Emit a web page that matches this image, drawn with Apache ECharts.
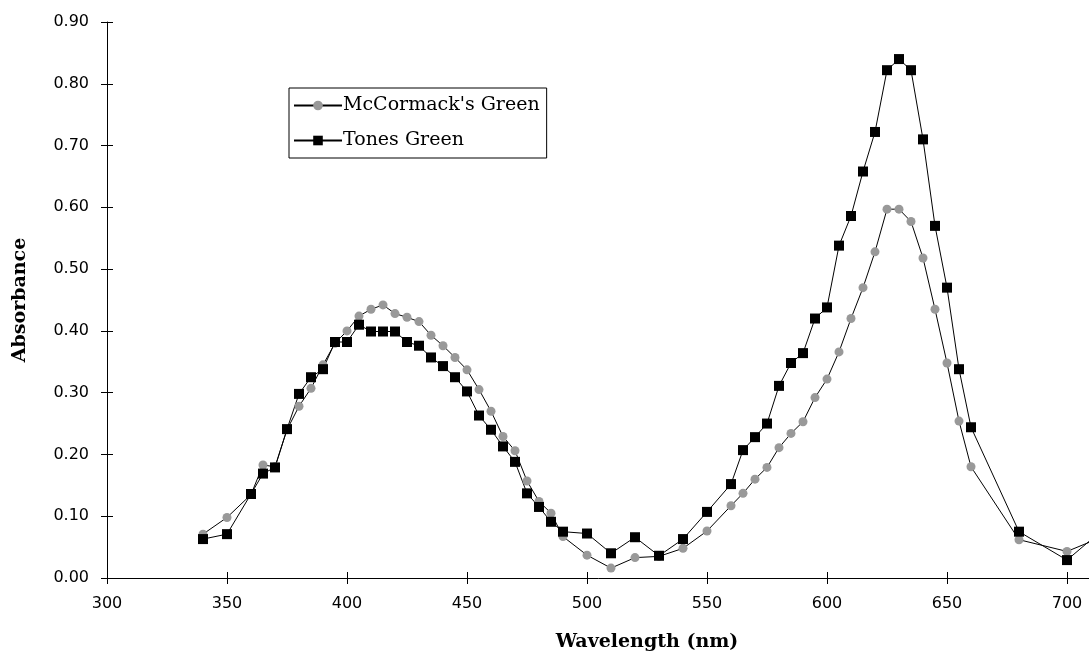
<!DOCTYPE html>
<html>
<head>
<meta charset="utf-8">
<script src="https://cdn.jsdelivr.net/npm/echarts@6/dist/echarts.min.js"></script>
<style>
  html, body { margin: 0; padding: 0; background: #fff; }
  #chart { width: 1089px; height: 655px; }
</style>
</head>
<body>
<div id="chart"></div>
<script>
// wavelengths (nm) sampled in the spectra
const wavelengths = [340, 350, 360, 365, 370, 375, 380, 385, 390, 395, 400, 405, 410, 415, 420,
  425, 430, 435, 440, 445, 450, 455, 460, 465, 470, 475, 480, 485, 490, 500, 510, 520, 530, 540,
  550, 560, 565, 570, 575, 580, 585, 590, 595, 600, 605, 610, 615, 620, 625, 630, 635, 640, 645,
  650, 655, 660, 680, 700, 720];

const mccormackGreen = [0.071, 0.098, 0.135, 0.183, 0.180, 0.240, 0.278, 0.307, 0.345, 0.380,
  0.400, 0.424, 0.435, 0.442, 0.428, 0.422, 0.415, 0.393, 0.376, 0.357, 0.337, 0.305, 0.270,
  0.229, 0.206, 0.157, 0.124, 0.105, 0.067, 0.037, 0.016, 0.033, 0.035, 0.048, 0.076, 0.117,
  0.137, 0.160, 0.179, 0.211, 0.234, 0.253, 0.292, 0.322, 0.366, 0.420, 0.470, 0.528, 0.597,
  0.597, 0.577, 0.518, 0.435, 0.348, 0.254, 0.180, 0.062, 0.043, 0.075];

const tonesGreen = [0.063, 0.071, 0.136, 0.169, 0.179, 0.241, 0.298, 0.325, 0.338, 0.382,
  0.382, 0.410, 0.399, 0.399, 0.399, 0.382, 0.376, 0.357, 0.343, 0.325, 0.302, 0.263, 0.240,
  0.213, 0.188, 0.137, 0.115, 0.091, 0.075, 0.072, 0.040, 0.066, 0.036, 0.063, 0.107, 0.152,
  0.207, 0.228, 0.250, 0.311, 0.348, 0.364, 0.420, 0.438, 0.538, 0.586, 0.658, 0.722, 0.822,
  0.840, 0.822, 0.710, 0.570, 0.470, 0.338, 0.244, 0.075, 0.029, 0.095];

const pairs = (ys) => wavelengths.map((x, i) => [x, ys[i]]);

const tickFont = { fontFamily: "DejaVu Sans", fontSize: 16, color: "#000" };
const titleFont = { fontFamily: "DejaVu Serif", fontWeight: "bold", fontSize: 19, color: "#000" };

const chart = echarts.init(document.getElementById("chart"));
chart.setOption({
  animation: false,
  backgroundColor: "#fff",
  // the plot runs past the right edge of the picture (axis goes to 750)
  grid: { left: 107, top: 22, width: 1080, height: 556, outerBoundsMode: "none", containLabel: false },
  legend: {
    orient: "vertical",
    left: 289,
    top: 88,
    padding: [8, 7, 8, 4],
    itemWidth: 48,
    itemHeight: 12,
    itemGap: 16,
    backgroundColor: "#fff",
    borderColor: "#000",
    borderWidth: 1,
    borderRadius: 0,
    textStyle: { fontFamily: "DejaVu Serif", fontSize: 19, color: "#000", padding: [0, 0, 0, -4] },
    data: ["McCormack's Green", "Tones Green"],
  },
  xAxis: [
    {
      type: "value",
      min: 300,
      max: 750,
      interval: 50,
      name: "Wavelength (nm)",
      nameLocation: "middle",
      nameGap: 55,
      nameTextStyle: titleFont,
      splitLine: { show: false },
      axisLine: { lineStyle: { color: "#000", width: 1 } },
      axisTick: { length: 6, lineStyle: { color: "#000" } },
      axisLabel: Object.assign({ margin: 18 }, tickFont),
    },
    {
      // inner half of the crossing ticks
      type: "value",
      position: "bottom",
      min: 300,
      max: 750,
      interval: 50,
      splitLine: { show: false },
      axisLine: { show: false },
      axisTick: { inside: true, length: 6, lineStyle: { color: "#000" } },
      axisLabel: { show: false },
    },
  ],
  yAxis: [
    {
      type: "value",
      min: 0,
      max: 0.9,
      interval: 0.1,
      name: "Absorbance",
      nameLocation: "middle",
      nameGap: 77,
      nameTextStyle: titleFont,
      splitLine: { show: false },
      axisLine: { show: true, lineStyle: { color: "#000", width: 1 } },
      axisTick: { show: true, length: 6, lineStyle: { color: "#000" } },
      axisLabel: Object.assign({ margin: 18, formatter: (v) => v.toFixed(2) }, tickFont),
    },
    {
      type: "value",
      position: "left",
      min: 0,
      max: 0.9,
      interval: 0.1,
      splitLine: { show: false },
      axisLine: { show: false },
      axisTick: { show: true, inside: true, length: 6, lineStyle: { color: "#000" } },
      axisLabel: { show: false },
    },
  ],
  series: [
    {
      name: "McCormack's Green",
      type: "line",
      data: pairs(mccormackGreen),
      symbol: "circle",
      symbolSize: 9,
      itemStyle: { color: "#999999" },
      lineStyle: { color: "#000", width: 1 },
    },
    {
      name: "Tones Green",
      type: "line",
      data: pairs(tonesGreen),
      symbol: "rect",
      symbolSize: 10,
      itemStyle: { color: "#000" },
      lineStyle: { color: "#000", width: 1 },
    },
  ],
});
</script>
</body>
</html>
